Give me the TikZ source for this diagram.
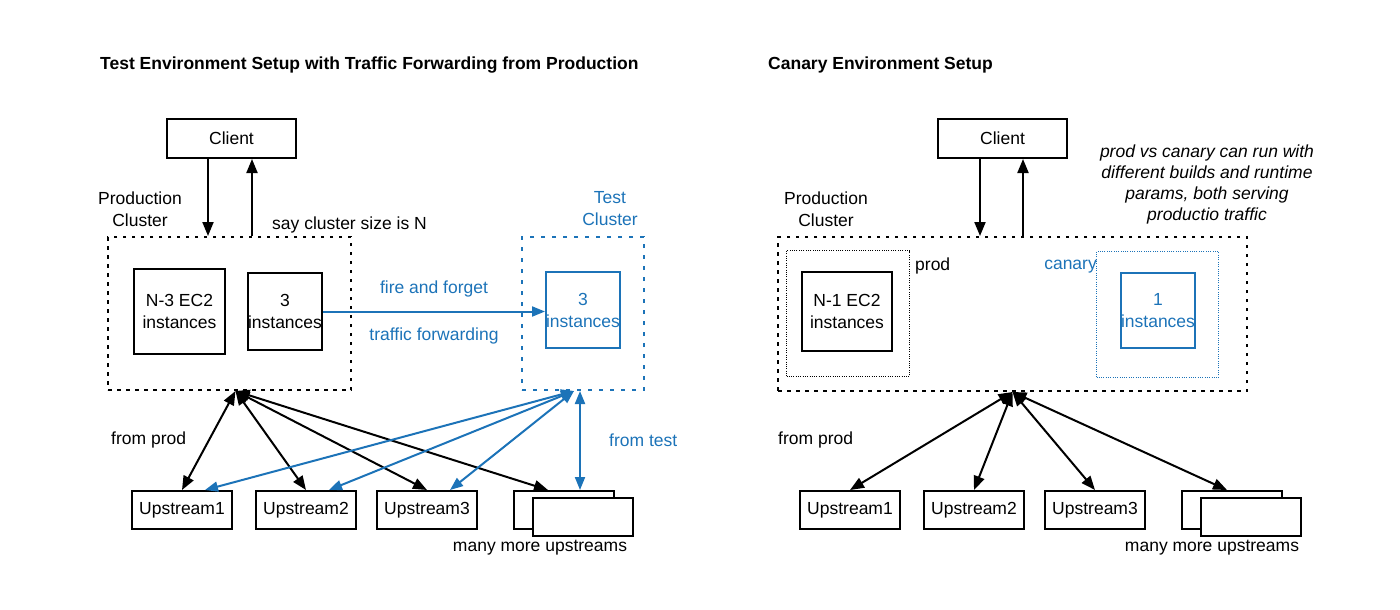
\documentclass[tikz,border=0pt]{standalone}
\usepackage{fontspec}
\setmainfont{Liberation Sans}
\usetikzlibrary{arrows.meta,positioning,calc}
\definecolor{fwdblue}{RGB}{28,115,184}
\newcommand{\diagfont}{\fontsize{17.5}{22}\selectfont}

\begin{document}
\begin{tikzpicture}[x=1pt, y=-1pt,
    box/.style={rectangle, draw=black, line width=2pt, inner sep=0pt, align=center,
        font=\diagfont},
    bluebox/.style={box, draw=fwdblue, text=fwdblue},
    upbox/.style={box, minimum width=100, minimum height=38},
    cluster/.style={rectangle, draw=black, line width=2pt, dash pattern=on 3.5pt off 5.5pt},
    bluecluster/.style={cluster, draw=fwdblue, dash pattern=on 4pt off 7pt},
    group/.style={rectangle, draw=black, line width=1.3pt, dash pattern=on 1pt off 1.3pt},
    bluegroup/.style={group, draw=fwdblue},
    note/.style={inner sep=0pt, align=center, font=\diagfont},
    title/.style={inner sep=0pt, anchor=west, font=\diagfont\bfseries},
    arr/.style={-{Triangle[length=14pt, width=11pt]}, line width=2pt},
    biarr/.style={{Triangle[length=14pt, width=11pt]}-{Triangle[length=14pt, width=11pt]}, line width=2pt},
    fwd/.style={-{Triangle[length=13pt, width=10pt]}, line width=2pt, color=fwdblue},
    bluebiarr/.style={{Triangle[length=13pt, width=10pt]}-{Triangle[length=13pt, width=10pt]},
        line width=2pt, color=fwdblue}
]
\useasboundingbox (0,0) rectangle (1400,610);

% test environment
\node[title] (ltitle) at (100,65) {Test Environment Setup with Traffic Forwarding from Production};
\node[box, minimum width=129, minimum height=39] (lclient) at (231.5,138.5) {Client};

\node[cluster, minimum width=243, minimum height=153] (lprod) at (229.5,313.5) {};
\node[note] (lprodlbl) at (140,209) {Production\\Cluster};
\node[note, anchor=west] (lsize) at (272,225) {say cluster size is N};
\node[box, minimum width=91, minimum height=85] (lbig) at (179.5,311.5) {N-3 EC2\\instances};
\node[box, minimum width=74, minimum height=77, right=21pt of lbig] (lthree) {3\\instances};

\coordinate (lcd) at ($(lclient.south)+(-23.5,0)$);
\coordinate (lcu) at ($(lclient.south)+(20.5,0)$);
\draw[arr] (lcd) -- (lcd |- lprod.north);
\draw[arr] (lcu |- lprod.north) -- (lcu);

\node[bluecluster, minimum width=122, minimum height=153] (ltest) at (583,313.5) {};
\node[note, text=fwdblue] (ltestlbl) at (610,209) {Test\\Cluster};
\node[bluebox, minimum width=74, minimum height=76] (ltestinst) at (583,310) {3\\instances};

\draw[fwd] (lthree.east) -- node[note, text=fwdblue, above=13pt] (lfire) {fire and forget}
    node[note, text=fwdblue, below=15pt] (ltraffic) {traffic forwarding}
    (lthree.east -| ltestinst.west);

\node[upbox] (lu1) at (182,510) {Upstream1};
\node[upbox, right=22pt of lu1] (lu2) {Upstream2};
\node[upbox, right=19pt of lu2] (lu3) {Upstream3};
\node[upbox, right=35pt of lu3] (lmoreb) {};
\node[upbox, fill=white] (lmoref) at ($(lmoreb)+(19,7)$) {};
\node[note] (lmorelbl) at (540,548) {many more upstreams};
\node[note, anchor=west] (lfromprod) at (111,440) {from prod};
\node[note, anchor=west, text=fwdblue] (lfromtest) at (609,440) {from test};

\coordinate (lsrc) at ($(lprod.south)+(6,0)$);
\foreach \u in {lu1,lu2,lu3}
    \draw[biarr] (lsrc) -- (\u.north);
\draw[biarr] (lsrc) -- ($(lmoreb.north)+(-16,0)$);

\coordinate (ltsrc) at ($(ltest.south)+(-9,0)$);
\foreach \u in {lu1,lu2,lu3}
    \draw[bluebiarr] (ltsrc) -- ($(\u.north)+(23,0)$);
\coordinate (ltv) at ($(ltest.south)+(-3,0)$);
\draw[bluebiarr] (ltv) -- (ltv |- lmoreb.north);

% canary environment
\node[title] (rtitle) at (768,65) {Canary Environment Setup};
\node[box, minimum width=129, minimum height=39] (rclient) at (1002.5,138.5) {Client};
\node[note, font=\fontsize{17.5}{21}\selectfont\itshape] (rnote) at (1207,184)
    {prod vs canary can run with\\different builds and runtime\\params, both serving\\productio traffic};

\node[cluster, minimum width=469, minimum height=154] (rprod) at (1012.5,314) {};
\node[note] (rprodlbl) at (826,209) {Production\\Cluster};

\coordinate (rcd) at ($(rclient.south)+(-22.5,0)$);
\coordinate (rcu) at ($(rclient.south)+(20.5,0)$);
\draw[arr] (rcd) -- (rcd |- rprod.north);
\draw[arr] (rcu |- rprod.north) -- (rcu);

\node[group, minimum width=123, minimum height=126] (rprodgrp) at (848,313.5) {};
\node[box, minimum width=90, minimum height=79] (rbig) at (847,311.5) {N-1 EC2\\instances};
\node[note, anchor=west] (rprodtag) at (915,266) {prod};

\node[bluegroup, minimum width=122, minimum height=126] (rcangrp) at (1157.5,314.5) {};
\node[bluebox, minimum width=74, minimum height=75] (rcaninst) at (1158,310.5) {1\\instances};
\node[note, anchor=east, text=fwdblue] (rcantag) at (1097,267) {canary};

\node[upbox] (ru1) at (850,510) {Upstream1};
\node[upbox, right=22pt of ru1] (ru2) {Upstream2};
\node[upbox, right=19pt of ru2] (ru3) {Upstream3};
\node[upbox, right=35pt of ru3] (rmoreb) {};
\node[upbox, fill=white] (rmoref) at ($(rmoreb)+(19,7)$) {};
\node[note] (rmorelbl) at (1212,548) {many more upstreams};
\node[note, anchor=west] (rfromprod) at (778,440) {from prod};

\coordinate (rsrc) at (rprod.south);
\foreach \u in {ru1,ru2,ru3}
    \draw[biarr] (rsrc) -- (\u.north);
\draw[biarr] (rsrc) -- ($(rmoreb.north)+(-5,0)$);
\end{tikzpicture}
\end{document}
